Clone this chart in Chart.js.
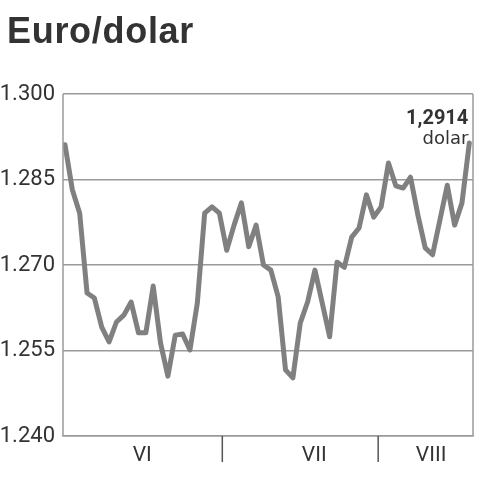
<!DOCTYPE html>
<html>
<head>
<meta charset="utf-8">
<script src="https://cdn.jsdelivr.net/npm/chart.js@4"></script>
<style>
  html, body { margin: 0; padding: 0; background: #fff; }
  #wrap { width: 482px; height: 480px; }
</style>
</head>
<body>
<div id="wrap"><canvas id="eurChart"></canvas></div>
<script>
// daily EUR/USD rate, June - August
const rates = [
  1.2911, 1.2832, 1.2791, 1.2651, 1.2642, 1.2591, 1.2565, 1.2600, 1.2612, 1.2635,
  1.2581, 1.2581, 1.2663, 1.2563, 1.2505, 1.2577, 1.2579, 1.2551, 1.2633, 1.2791,
  1.2802, 1.2791, 1.2726, 1.2770, 1.2809, 1.2732, 1.2770, 1.2700, 1.2691, 1.2644,
  1.2516, 1.2502, 1.2598, 1.2635, 1.2691, 1.2633, 1.2574, 1.2705, 1.2696, 1.2749,
  1.2765, 1.2823, 1.2784, 1.2802, 1.2879, 1.2839, 1.2835, 1.2854, 1.2788, 1.2730,
  1.2718, 1.2779, 1.2840, 1.2770, 1.2809, 1.2914
];
const months = ['VI', 'VII', 'VIII'];
const monthMid = [10.5, 33.9, 49.8];   // day index under each month label
const monthBreaks = [21.4, 42.6];      // day index where a month ends
const yTicks = [1.240, 1.255, 1.270, 1.285, 1.300];
const lastLabel = ['1,2914', 'dolar'];

const gray = '#9a9a9a';
const ink = '#333333';

const decor = {
  id: 'decor',
  afterDraw(chart) {
    const { ctx, chartArea: a, scales } = chart;
    ctx.save();
    // title
    ctx.fillStyle = ink;
    ctx.font = 'bold 36px "Liberation Sans"';
    ctx.letterSpacing = '0.7px';
    ctx.textAlign = 'left';
    ctx.textBaseline = 'alphabetic';
    ctx.fillText('Euro/dolar', 7, 43);
    ctx.letterSpacing = '0px';
    // frame sides
    ctx.strokeStyle = gray;
    ctx.lineWidth = 1.5;
    ctx.beginPath();
    ctx.moveTo(a.left, a.top); ctx.lineTo(a.left, a.bottom);
    ctx.moveTo(a.right, a.top); ctx.lineTo(a.right, a.bottom);
    ctx.stroke();
    // month separators
    ctx.strokeStyle = '#555';
    ctx.beginPath();
    monthBreaks.forEach(v => {
      const x = scales.x.getPixelForValue(v);
      ctx.moveTo(x, a.bottom); ctx.lineTo(x, a.bottom + 26);
    });
    ctx.stroke();
    // last value note
    const pts = chart.getDatasetMeta(0).data;
    const p = pts[pts.length - 1];
    ctx.textAlign = 'right';
    ctx.font = 'bold 20px Roboto';
    ctx.fillText(lastLabel[0], p.x - 1, p.y - 19);
    ctx.font = '18px "DejaVu Sans"';
    ctx.fillText(lastLabel[1], p.x - 1, p.y + 1);
    ctx.restore();
  }
};

window.addEventListener('load', () => {
  const ctx = document.getElementById('eurChart').getContext('2d');
  new Chart(ctx, {
    type: 'line',
    data: {
      datasets: [{
        data: rates.map((v, i) => ({ x: i, y: v })),
        borderColor: '#808080',
        borderWidth: 5,
        pointRadius: 0,
        tension: 0,
        borderJoinStyle: 'round',
        borderCapStyle: 'round'
      }]
    },
    options: {
      responsive: true,
      maintainAspectRatio: false,
      animation: false,
      layout: { padding: { top: 94, right: 9, left: 0, bottom: 0 } },
      plugins: { legend: { display: false }, tooltip: { enabled: false } },
      scales: {
        x: {
          type: 'linear',
          min: -0.27,
          max: 55.5,
          afterBuildTicks: s => { s.ticks = monthMid.map(v => ({ value: v })); },
          afterFit: s => { s.height = 44; },
          grid: { display: false, drawTicks: false },
          border: { display: true, color: gray, width: 1.5 },
          ticks: {
            padding: 7,
            color: ink,
            font: { family: 'Roboto', size: 21 },
            autoSkip: false,
            maxRotation: 0,
            callback: (v, i) => months[i]
          }
        },
        y: {
          min: 1.24,
          max: 1.30,
          afterBuildTicks: s => { s.ticks = yTicks.map(v => ({ value: v })); },
          afterFit: s => { s.width = 63; },
          grid: { color: gray, lineWidth: 1.5, drawTicks: false },
          border: { display: false },
          ticks: {
            padding: 8,
            color: ink,
            font: { family: 'Roboto', size: 22 },
            callback: v => v.toFixed(3)
          }
        }
      }
    },
    plugins: [decor]
  });
});
</script>
</body>
</html>
